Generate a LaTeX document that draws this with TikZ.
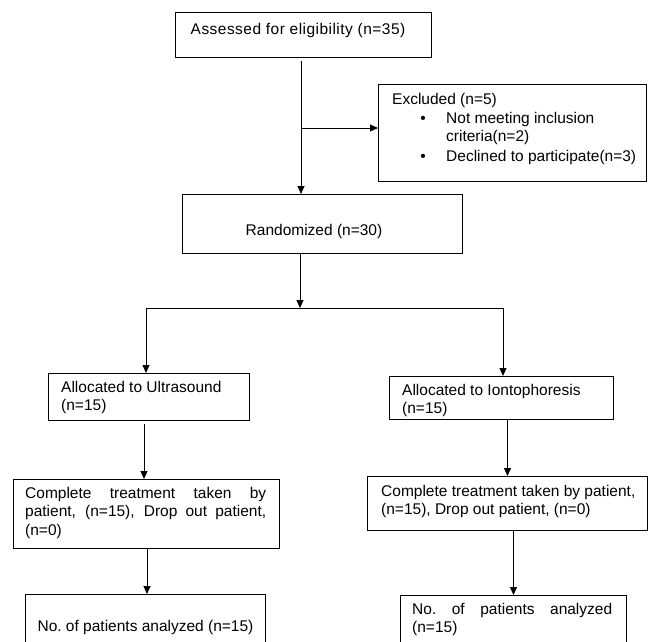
\documentclass[tikz,border=0pt]{standalone}
\usepackage{fontspec}
\setmainfont{Liberation Sans}
\usetikzlibrary{arrows.meta}
\begin{document}
\begin{tikzpicture}[x=1pt,y=-1pt,
  box/.style={draw, line width=1pt, anchor=north west, inner sep=0pt},
  txt/.style={anchor=base west, inner sep=0pt, font=\fontsize{15.5}{18.5}\selectfont},
  ctxt/.style={anchor=base, inner sep=0pt, font=\fontsize{15.5}{18.5}\selectfont},
  arr/.style={line width=1pt, -{Triangle[length=8pt,width=7pt]}},
  ln/.style={line width=1pt}]
\useasboundingbox (0,0) rectangle (649,641);
\clip (0,0) rectangle (649,641);
% boxes
\node[box, minimum width=256pt, minimum height=45pt] (top) at (175,12) {};
\node[box, minimum width=268pt, minimum height=97pt] (excl) at (378,84) {};
\node[box, minimum width=280pt, minimum height=59pt] (rand) at (182,194) {};
\node[box, minimum width=201pt, minimum height=47pt] (alU) at (48,373) {};
\node[box, minimum width=224pt, minimum height=43pt] (alI) at (389,376) {};
\node[box, minimum width=266pt, minimum height=69pt] (cU) at (13,479) {};
\node[box, minimum width=280pt, minimum height=54pt] (cI) at (367,476) {};
\node[box, minimum width=240pt, minimum height=66pt] (nU) at (25,594) {};
\node[box, minimum width=226pt, minimum height=66pt] (nI) at (400,595) {};
% texts
\node[ctxt, font=\fontsize{15.5}{18.5}\selectfont\addfontfeature{LetterSpace=3}] (t1) at (298,34) {Assessed for eligibility (n=35)};
\node[txt] (ex1) at (392,104) {Excluded (n=5)};
\node[ctxt] (b1) at (423,123) {•};
\node[ctxt] (b2) at (423,161) {•};
\node[txt] (ex2) at (446,123) {Not meeting inclusion};
\node[txt] (ex3) at (446,141) {criteria(n=2)};
\node[txt] (ex4) at (446,161) {Declined to participate(n=3)};
\node[ctxt] (t2) at (314,235) {Randomized (n=30)};
\node[txt] (u1) at (61,392) {Allocated to Ultrasound};
\node[txt] (u2) at (61,410) {(n=15)};
\node[txt] (i1) at (402,395) {Allocated to Iontophoresis};
\node[txt] (i2) at (402,413) {(n=15)};
\node[txt] (cu1) at (25,498) {\makebox[241pt][s]{Complete treatment taken by}};
\node[txt] (cu2) at (25,516.5) {\makebox[241pt][s]{patient, (n=15), Drop out patient,}};
\node[txt] (cu3) at (25,535) {(n=0)};
\node[txt] (ci1) at (381,496) {Complete treatment taken by patient,};
\node[txt] (ci2) at (381,514.5) {(n=15), Drop out patient, (n=0)};
\node[ctxt] (nu1) at (145.5,631) {No.\ of patients analyzed (n=15)};
\node[txt] (ni1) at (412,614) {\makebox[200pt][s]{No.\ of patients analyzed}};
\node[txt] (ni2) at (412,632) {(n=15)};
% connectors
\coordinate (j1) at (301,128);
\coordinate (j2) at (300,308);
\coordinate (jl) at (146,308);
\coordinate (jr) at (503,308);
\coordinate (xu) at (144,0);
\coordinate (xn) at (147,0);
\draw[arr, shorten <=3pt] (top.south -| j1) -- (rand.north -| j1);
\draw[arr] (j1) -- (j1 -| excl.west);
\draw[arr] (rand.south -| j2) -- (j2);
\draw[arr] (j2) -| (jl |- alU.north);
\draw[arr] (j2) -| (jr |- alI.north);
\draw[arr, shorten <=3pt] (alU.south -| xu) -- (cU.north -| xu);
\draw[arr] (cU.south -| xn) -- (nU.north -| xn);
\draw[arr] (alI.south -| cI.north) -- (cI.north);
\draw[arr] (cI.south -| nI.north) -- (nI.north);
\end{tikzpicture}
\end{document}
